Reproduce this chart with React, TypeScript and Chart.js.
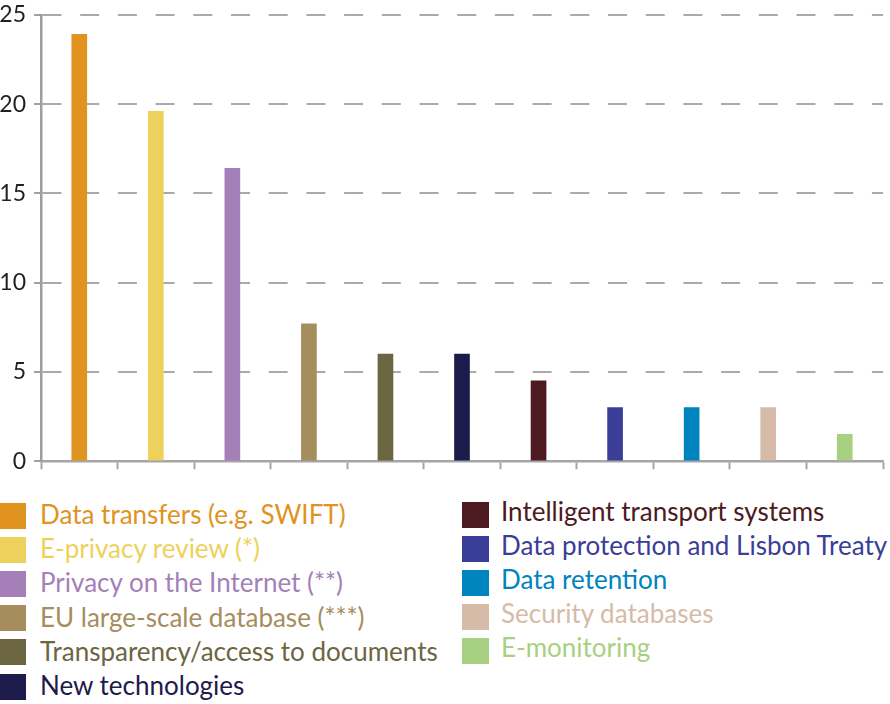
import React, { useEffect, useRef } from "react";
import { Chart, registerables } from "chart.js";

Chart.register(...registerables);

const categories = [
  "Data transfers (e.g. SWIFT)",
  "E-privacy review (*)",
  "Privacy on the Internet (**)",
  "EU large-scale database (***)",
  "Transparency/access to documents",
  "New technologies",
  "Intelligent transport systems",
  "Data protection and Lisbon Treaty",
  "Data retention",
  "Security databases",
  "E-monitoring",
];

const values = [23.9, 19.6, 16.4, 7.7, 6.0, 6.0, 4.5, 3.0, 3.0, 3.0, 1.5];

const colors = [
  "#E0931F",
  "#EED15C",
  "#A57FB8",
  "#A68D5E",
  "#6C6541",
  "#1D1A4C",
  "#4C1A20",
  "#3A3E96",
  "#0084BE",
  "#D5BBA8",
  "#A8D081",
];

const yTicks = [0, 5, 10, 15, 20, 25];

const leftLegend = [0, 1, 2, 3, 4, 5];
const rightLegend = [6, 7, 8, 9, 10];

const FONT = "Lato, 'Open Sans', sans-serif";

export default function App() {
  const canvasRef = useRef<HTMLCanvasElement | null>(null);

  useEffect(() => {
    const canvas = canvasRef.current;
    if (!canvas) return;
    const chart = new Chart(canvas, {
      type: "bar",
      data: {
        labels: categories,
        datasets: [
          {
            data: values,
            backgroundColor: colors,
            borderWidth: 0,
            barThickness: 15,
          },
        ],
      },
      options: {
        animation: false,
        responsive: false,
        maintainAspectRatio: false,
        layout: { padding: { top: 1, right: 7, bottom: 1, left: 0 } },
        plugins: {
          legend: { display: false },
          tooltip: { enabled: false },
        },
        scales: {
          x: {
            offset: true,
            grid: {
              display: true,
              offset: true,
              drawOnChartArea: false,
              drawTicks: true,
              tickLength: 8,
              tickColor: "#a5a5a5",
              tickWidth: 2,
              color: "#a5a5a5",
            },
            border: { display: true, color: "#a5a5a5", width: 2.5 },
            ticks: { display: false },
          },
          y: {
            min: 0,
            max: 25,
            afterBuildTicks: (scale: any) => {
              scale.ticks = yTicks.map((v) => ({ value: v }));
            },
            afterFit: (scale: any) => {
              scale.width = 41;
            },
            grid: {
              display: true,
              color: "#aaaaaa",
              lineWidth: 2,
              drawTicks: true,
              tickLength: 7,
              tickColor: "#a0a0a0",
              tickWidth: 2,
            },
            border: { display: true, color: "#9d9d9d", width: 2.5, dash: [19, 18.7] },
            ticks: {
              padding: 8,
              color: "#231f20",
              font: { family: FONT, size: 23 },
            },
          },
        },
      },
    });
    return () => chart.destroy();
  }, []);

  const squareStyle = (left: number, top: number, w: number, color: string): React.CSSProperties => ({
    position: "absolute",
    left,
    top,
    width: w,
    height: 26,
    background: color,
  });

  const textStyle = (left: number, top: number, size: number, color: string): React.CSSProperties => ({
    position: "absolute",
    left,
    top,
    fontFamily: FONT,
    fontSize: size,
    lineHeight: `${size}px`,
    color,
    whiteSpace: "nowrap",
  });

  return (
    <div style={{ position: "absolute", left: 0, top: 0, width: 890, height: 704, background: "#fff", overflow: "hidden" }}>
      <canvas ref={canvasRef} width={890} height={490} style={{ position: "absolute", left: 0, top: -7 }} />
      {leftLegend.map((idx, i) => {
        const top = 503 + i * 34.1;
        return (
          <React.Fragment key={idx}>
            <div style={squareStyle(0, top, 26, colors[idx])} />
            <div style={textStyle(40, top + 21.3 - 23.1, 26, colors[idx])}>{categories[idx]}</div>
          </React.Fragment>
        );
      })}
      {rightLegend.map((idx, i) => {
        const top = 502 + i * 34;
        return (
          <React.Fragment key={idx}>
            <div style={squareStyle(462, top, 27, colors[idx])} />
            <div style={textStyle(501, top + 19.5 - 23.1, 26, colors[idx])}>{categories[idx]}</div>
          </React.Fragment>
        );
      })}
    </div>
  );
}
